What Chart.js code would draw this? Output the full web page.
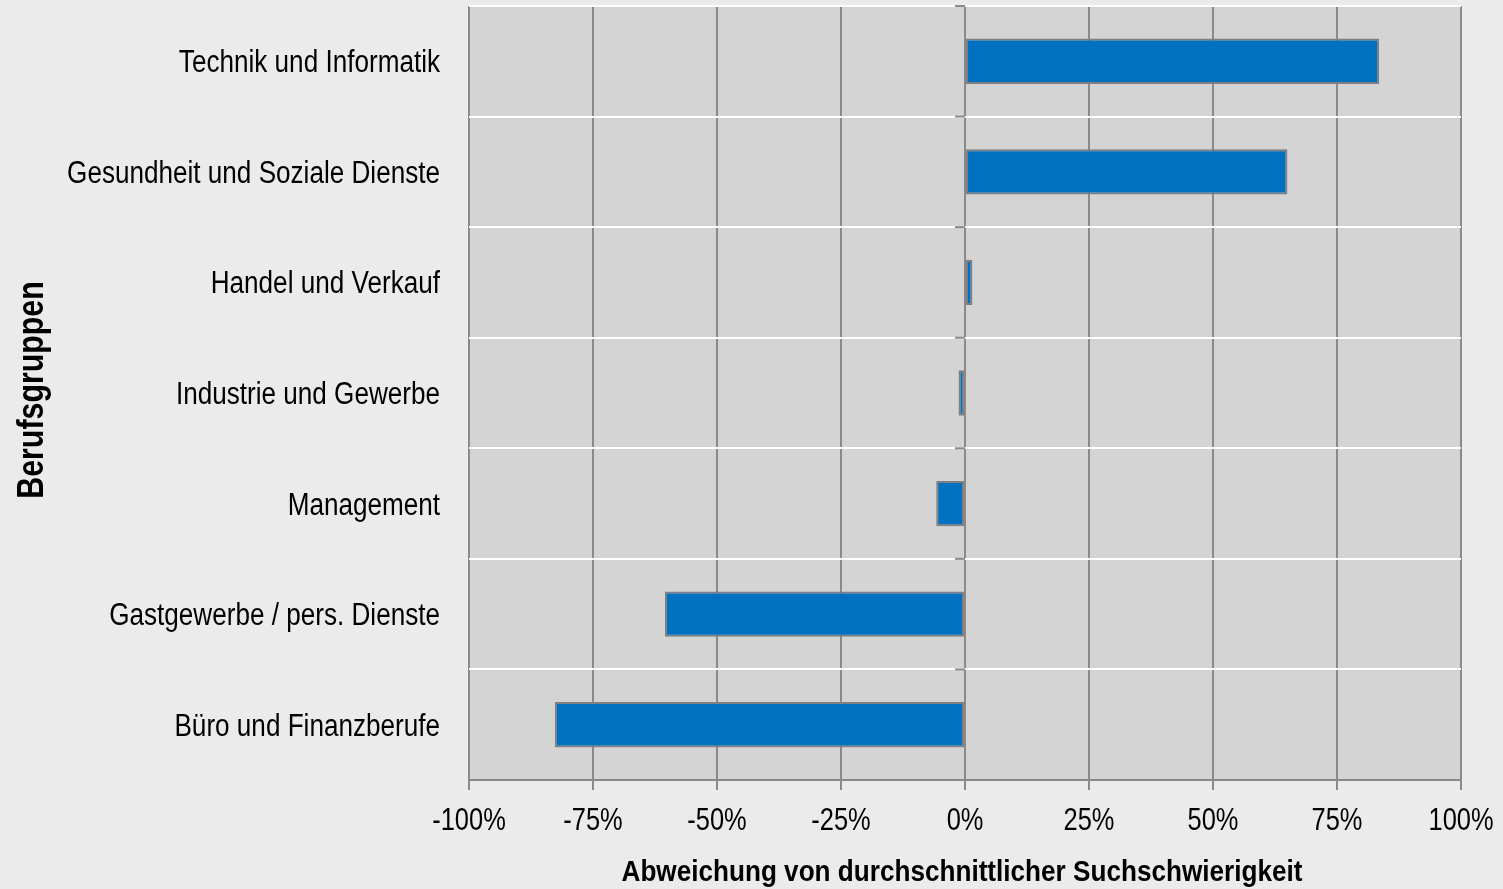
<!DOCTYPE html>
<html>
<head>
<meta charset="utf-8">
<script src="https://cdn.jsdelivr.net/npm/chart.js@4/dist/chart.umd.min.js"></script>
<style>
html,body{margin:0;padding:0;background:#ebebeb;}
#wrap{width:1503px;height:889px;position:relative;}
</style>
</head>
<body>
<div id="wrap"><canvas id="c" width="1503" height="889"></canvas></div>
<script>
const categories = ['Technik und Informatik', 'Gesundheit und Soziale Dienste', 'Handel und Verkauf', 'Industrie und Gewerbe', 'Management', 'Gastgewerbe / pers. Dienste', 'Büro und Finanzberufe'];
const deviation = [83.5, 65.0, 1.5, -1.3, -5.8, -60.5, -82.7];
const xTicks = [-100, -75, -50, -25, 0, 25, 50, 75, 100];
const xTitle = 'Abweichung von durchschnittlicher Suchschwierigkeit';
const yTitle = 'Berufsgruppen';

const FONT = "'Liberation Sans Narrow', 'Arial Narrow', 'Liberation Sans', Arial, sans-serif";

const plotBg = {
  id: 'plotBg',
  beforeDraw(chart) {
    const {ctx, chartArea: a} = chart;
    ctx.save();
    ctx.fillStyle = '#d4d4d4';
    ctx.fillRect(a.left, a.top, a.right - a.left, a.bottom - a.top);
    ctx.restore();
  }
};

// draws real text, horizontally condensed to imitate Arial Narrow
function narrowText(ctx, text, x, y, font, align, sx, rot) {
  ctx.save();
  ctx.translate(x, y);
  if (rot) ctx.rotate(rot);
  ctx.scale(sx, 1);
  ctx.font = font;
  ctx.fillStyle = '#000';
  ctx.textAlign = align;
  ctx.textBaseline = 'alphabetic';
  ctx.fillText(text, 0, 0);
  ctx.restore();
}

const textLayer = {
  id: 'textLayer',
  afterDraw(chart) {
    const {ctx, chartArea: a} = chart;
    const xs = chart.scales.x, ys = chart.scales.y;
    const x0 = xs.getPixelForValue(0);
    // small category ticks on the zero axis
    ctx.save();
    ctx.strokeStyle = '#8a8a8a';
    ctx.lineWidth = 2;
    for (let i = 0; i <= categories.length; i++) {
      const y = ys.getPixelForValue(i - 0.5);
      ctx.beginPath();
      ctx.moveTo(x0 - 10, y);
      ctx.lineTo(x0, y);
      ctx.stroke();
    }
    ctx.restore();
    const f31 = '31px ' + FONT;
    categories.forEach((c, i) => {
      narrowText(ctx, c, a.left - 29, ys.getPixelForValue(i) + 11, f31, 'right', 0.842);
    });
    xs.ticks.forEach(t => {
      narrowText(ctx, t.value + '%', xs.getPixelForValue(t.value), a.bottom + 50, f31, 'center', 0.82);
    });
    narrowText(ctx, xTitle, (a.left + a.right) / 2 - 3, 881, 'bold 30px ' + FONT, 'center', 0.871);
    narrowText(ctx, yTitle, 42.5, (a.top + a.bottom) / 2 - 3, 'bold 37px ' + FONT, 'center', 0.82, -Math.PI / 2);
  }
};

new Chart(document.getElementById('c'), {
  type: 'bar',
  data: {
    labels: categories,
    datasets: [{
      data: deviation,
      backgroundColor: '#0070c0',
      borderColor: '#7f7f7f',
      borderWidth: 2,
      borderSkipped: false,
      barPercentage: 0.41,
      categoryPercentage: 1.0
    }]
  },
  options: {
    indexAxis: 'y',
    responsive: false,
    animation: false,
    layout: {padding: {left: 0, right: 42, top: 6, bottom: 0}},
    plugins: {legend: {display: false}, tooltip: {enabled: false}},
    scales: {
      x: {
        min: -100, max: 100,
        afterBuildTicks(scale) { scale.ticks = xTicks.map(v => ({value: v})); },
        afterFit(scale) { scale.height = 109; },
        grid: {color: '#8a8a8a', lineWidth: 2, tickLength: 10, drawOnChartArea: true},
        border: {color: '#8a8a8a', width: 2},
        ticks: {display: false},
        title: {display: false}
      },
      y: {
        afterFit(scale) { scale.width = 469; },
        grid: {color: '#ffffff', lineWidth: 2, drawTicks: false, offset: true},
        border: {display: false},
        ticks: {display: false},
        title: {display: false}
      }
    }
  },
  plugins: [plotBg, textLayer]
});
</script>
</body>
</html>
